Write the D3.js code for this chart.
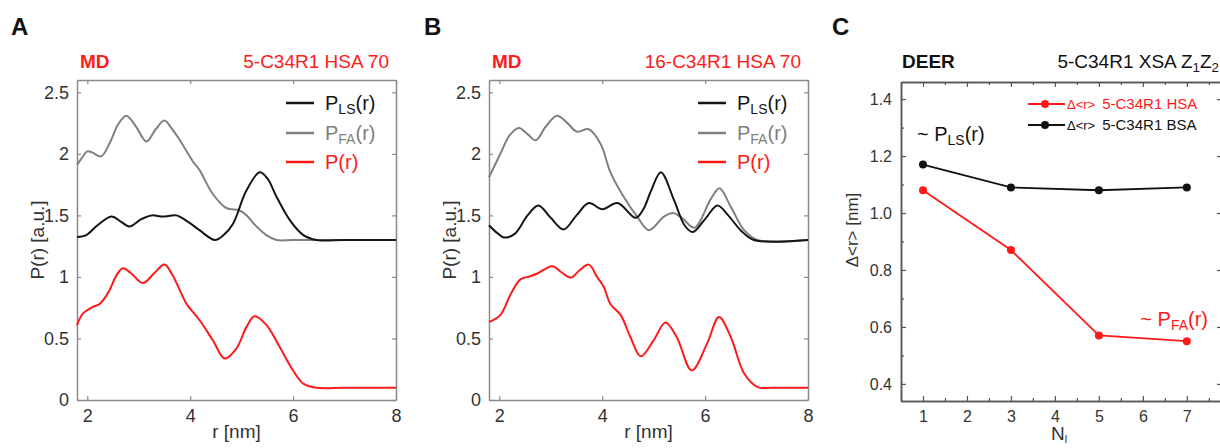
<!DOCTYPE html>
<html>
<head>
<meta charset="utf-8">
<script src="https://cdn.jsdelivr.net/npm/d3@7"></script>
<style>
  body { margin: 0; background: #fff; }
  svg { font-family: "Liberation Sans", Arial, sans-serif; }
</style>
</head>
<body>
<svg id="chart" width="1220" height="448"></svg>
<script>
// panel A: 5-C34R1 HSA 70, [r, P] pairs
var lsA = [[1.8,1.325],[1.98,1.34],[2.2,1.42],[2.47,1.49],[2.65,1.45],[2.82,1.41],[3.05,1.47],[3.25,1.50],[3.47,1.49],[3.73,1.50],[3.95,1.45],[4.18,1.38],[4.48,1.30],[4.65,1.34],[4.83,1.43],[5.09,1.70],[5.35,1.85],[5.5,1.80],[5.68,1.65],[5.94,1.46],[6.2,1.34],[6.46,1.30],[7,1.30],[8,1.30]];
var faA = [[1.8,1.91],[1.9,1.97],[2.0,2.02],[2.1,2.01],[2.27,1.98],[2.45,2.1],[2.6,2.24],[2.76,2.31],[2.95,2.22],[3.15,2.10],[3.33,2.2],[3.5,2.27],[3.65,2.2],[3.8,2.11],[4.05,1.94],[4.18,1.87],[4.43,1.68],[4.7,1.56],[4.96,1.54],[5.1,1.5],[5.22,1.44],[5.48,1.34],[5.68,1.30],[6,1.30],[8,1.30]];
var pA = [[1.8,0.607],[1.91,0.70],[2.11,0.756],[2.24,0.78],[2.43,0.89],[2.55,1.0],[2.69,1.07],[2.85,1.03],[3.08,0.95],[3.3,1.03],[3.5,1.10],[3.65,1.02],[3.8,0.89],[3.93,0.78],[4.18,0.65],[4.44,0.485],[4.67,0.337],[4.9,0.42],[5.09,0.59],[5.25,0.68],[5.48,0.61],[5.74,0.43],[6.0,0.24],[6.2,0.133],[6.45,0.10],[7,0.1],[8,0.1]];

// panel B: 16-C34R1 HSA 70
var lsB = [[1.8,1.42],[1.95,1.36],[2.1,1.32],[2.3,1.35],[2.55,1.5],[2.76,1.58],[3.0,1.48],[3.25,1.385],[3.5,1.5],[3.74,1.60],[4.0,1.55],[4.3,1.60],[4.65,1.48],[4.8,1.55],[4.95,1.70],[5.14,1.85],[5.4,1.62],[5.6,1.42],[5.76,1.365],[6.0,1.47],[6.24,1.58],[6.45,1.5],[6.69,1.38],[6.95,1.30],[8,1.30]];
var faB = [[1.8,1.81],[2.02,2.0],[2.2,2.15],[2.38,2.21],[2.55,2.16],[2.71,2.11],[2.9,2.22],[3.12,2.31],[3.3,2.26],[3.51,2.18],[3.74,2.20],[3.97,2.08],[4.16,1.85],[4.42,1.65],[4.68,1.49],[4.91,1.38],[5.2,1.49],[5.37,1.52],[5.55,1.48],[5.79,1.40],[6.12,1.64],[6.28,1.72],[6.5,1.57],[6.76,1.38],[7.02,1.30],[8,1.30]];
var pB = [[1.8,0.634],[2.02,0.69],[2.21,0.85],[2.41,0.98],[2.6,1.005],[2.75,1.03],[3.03,1.087],[3.2,1.04],[3.39,0.995],[3.55,1.05],[3.74,1.10],[3.9,1.0],[4.03,0.92],[4.16,0.78],[4.36,0.69],[4.55,0.51],[4.75,0.355],[5.0,0.485],[5.23,0.63],[5.45,0.51],[5.74,0.24],[6.04,0.46],[6.27,0.675],[6.5,0.51],[6.76,0.215],[7.02,0.105],[7.3,0.1],[8,0.1]];

var rTicks = [2, 4, 6, 8];
var pTicks = [0, 0.5, 1, 1.5, 2, 2.5];
var pTickLabels = ['0', '0.5', '1', '1.5', '2', '2.5'];

// panel C: DEER widths vs N_l
var nValues = [1, 3, 5, 7];
var hsaWidth = [1.08, 0.87, 0.57, 0.55];
var bsaWidth = [1.17, 1.09, 1.08, 1.09];
var nTicks = [1, 2, 3, 4, 5, 6, 7];
var wTicks = [0.4, 0.6, 0.8, 1.0, 1.2, 1.4];

var colLS = '#151515', colFA = '#808080', colP = '#ff1a1a';

var svg = d3.select('#chart');

// panel letters
[['A', 11], ['B', 424], ['C', 832]].forEach(function(d) {
    svg.append('text').attr('x', d[1]).attr('y', 35)
        .attr('font-size', 24).attr('font-weight', 'bold').attr('fill', '#111')
        .text(d[0]);
});

function subText(sel, parts) {
    //parts: [text, isSub]
    parts.forEach(function(p) {
        var t = sel.append('tspan').text(p[0]);
        if (p[1] == 'sub') t.attr('font-size', '0.7em').attr('dy', 4);
        if (p[1] == 'back') t.attr('dy', -4);
    });
}

function drawDist(left, right, title, ls, fa, p) {
    var top = 80, bottom = 400;
    var x = d3.scaleLinear().domain([1.8, 8]).range([left, right]);
    var y = d3.scaleLinear().domain([0, 2.6]).range([bottom, top]);
    var g = svg.append('g');

    // titles
    g.append('text').attr('x', left + 3).attr('y', 68).attr('font-size', 19)
        .attr('font-weight', 'bold').attr('fill', colP).text('MD');
    g.append('text').attr('x', right - 7).attr('y', 68).attr('font-size', 19)
        .attr('text-anchor', 'end').attr('fill', colP).text(title);

    // axes, ticks inward
    var axB = d3.axisBottom(x).tickValues(rTicks).tickSizeInner(-4).tickSizeOuter(0).tickPadding(9)
        .tickFormat(d3.format('d'));
    var axL = d3.axisLeft(y).tickValues(pTicks).tickSizeInner(-4).tickSizeOuter(0).tickPadding(8)
        .tickFormat(function(d, i) { return pTickLabels[i]; });
    var axT = d3.axisTop(x).tickValues(rTicks).tickSizeInner(-4).tickSizeOuter(0).tickFormat('');
    var axR = d3.axisRight(y).tickValues(pTicks).tickSizeInner(-4).tickSizeOuter(0).tickFormat('');

    [[axB, 'translate(0,' + bottom + ')'], [axL, 'translate(' + left + ',0)'],
     [axT, 'translate(0,' + top + ')'], [axR, 'translate(' + right + ',0)']].forEach(function(a) {
        var s = g.append('g').attr('transform', a[1]).call(a[0]);
        s.select('.domain').attr('stroke', '#8a8a8a').attr('stroke-width', 1.5);
        s.selectAll('.tick line').attr('stroke', '#8a8a8a').attr('stroke-width', 1.2);
        s.selectAll('text').attr('font-size', 18).attr('fill', '#333')
            .attr('font-family', '"Liberation Sans", Arial, sans-serif');
    });

    var line = d3.line().x(function(d) { return x(d[0]); }).y(function(d) { return y(d[1]); })
        .curve(d3.curveCatmullRom.alpha(0.5));
    [[fa, colFA], [ls, colLS], [p, colP]].forEach(function(s) {
        g.append('path').datum(s[0]).attr('d', line).attr('fill', 'none')
            .attr('stroke', s[1]).attr('stroke-width', 2);
    });

    // legend
    var lx = right - 110;
    var items = [
        [colLS, 103, [['P'], ['LS', 'sub'], ['(r)', 'back']]],
        [colFA, 133, [['P'], ['FA', 'sub'], ['(r)', 'back']]],
        [colP, 162, [['P(r)']]]
    ];
    items.forEach(function(it) {
        g.append('line').attr('x1', lx).attr('x2', lx + 28).attr('y1', it[1]).attr('y2', it[1])
            .attr('stroke', it[0]).attr('stroke-width', 2.5);
        var t = g.append('text').attr('x', lx + 39).attr('y', it[1] + 7)
            .attr('font-size', 20).attr('fill', it[0]);
        subText(t, it[2]);
    });

    // axis labels
    g.append('text').attr('transform', 'translate(' + (left - 33) + ',' + ((top + bottom) / 2) + ') rotate(-90)')
        .attr('text-anchor', 'middle').attr('font-size', 19).attr('fill', '#333').text('P(r) [a.u.]');
    g.append('text').attr('x', (left + right) / 2).attr('y', 438)
        .attr('text-anchor', 'middle').attr('font-size', 19).attr('fill', '#333').text('r [nm]');
}

drawDist(77, 396, '5-C34R1 HSA 70', lsA, faA, pA);
drawDist(489, 808, '16-C34R1 HSA 70', lsB, faB, pB);

// panel C
function drawDeer() {
    var left = 901, right = 1222, top = 82, bottom = 401;
    var x = d3.scaleLinear().domain([0.5, 7.8]).range([left, right]);
    var y = d3.scaleLinear().domain([0.34, 1.46]).range([bottom, top]);
    var g = svg.append('g');

    g.append('text').attr('x', left + 1).attr('y', 68).attr('font-size', 19)
        .attr('font-weight', 'bold').attr('fill', '#111').text('DEER');
    var tt = g.append('text').attr('x', 1219).attr('y', 68).attr('font-size', 19)
        .attr('text-anchor', 'end').attr('fill', '#111');
    subText(tt, [['5-C34R1 XSA Z'], ['1', 'sub'], ['Z', 'back'], ['2', 'sub']]);

    var minorX = d3.range(0.5, 7.81, 0.5).filter(function(v) { return v % 1 != 0; });
    var minorY = [0.5, 0.7, 0.9, 1.1, 1.3];

    var axes = [
        [d3.axisBottom(x).tickValues(nTicks).tickSizeInner(-5).tickPadding(10).tickFormat(d3.format('d')), 'translate(0,' + bottom + ')'],
        [d3.axisLeft(y).tickValues(wTicks).tickSizeInner(-5).tickPadding(9).tickFormat(d3.format('.1f')), 'translate(' + left + ',0)'],
        [d3.axisTop(x).tickValues(nTicks).tickSizeInner(-5).tickFormat(''), 'translate(0,' + top + ')'],
        [d3.axisRight(y).tickValues(wTicks).tickSizeInner(-5).tickFormat(''), 'translate(' + right + ',0)'],
        [d3.axisBottom(x).tickValues(minorX).tickSizeInner(-3).tickFormat(''), 'translate(0,' + bottom + ')'],
        [d3.axisTop(x).tickValues(minorX).tickSizeInner(-3).tickFormat(''), 'translate(0,' + top + ')'],
        [d3.axisLeft(y).tickValues(minorY).tickSizeInner(-3).tickFormat(''), 'translate(' + left + ',0)']
    ];
    axes.forEach(function(a) {
        var s = g.append('g').attr('transform', a[1]).call(a[0].tickSizeOuter(0));
        s.select('.domain').attr('stroke', '#555').attr('stroke-width', 1.5);
        s.selectAll('.tick line').attr('stroke', '#555').attr('stroke-width', 1.2);
        s.selectAll('text').attr('font-size', 16).attr('fill', '#333')
            .attr('font-family', '"Liberation Sans", Arial, sans-serif');
    });

    var series = [[bsaWidth, '#111'], [hsaWidth, colP]];
    series.forEach(function(s) {
        var pts = nValues.map(function(n, i) { return [n, s[0][i]]; });
        g.append('path').datum(pts)
            .attr('d', d3.line().x(function(d) { return x(d[0]); }).y(function(d) { return y(d[1]); }))
            .attr('fill', 'none').attr('stroke', s[1]).attr('stroke-width', 1.8);
        g.selectAll(null).data(pts).enter().append('circle')
            .attr('cx', function(d) { return x(d[0]); }).attr('cy', function(d) { return y(d[1]); })
            .attr('r', 4).attr('fill', s[1]);
    });

    // legend
    var legend = [[colP, 104, '5-C34R1 HSA'], ['#111', 125, '5-C34R1 BSA']];
    legend.forEach(function(l) {
        g.append('line').attr('x1', 1028).attr('x2', 1065).attr('y1', l[1]).attr('y2', l[1])
            .attr('stroke', l[0]).attr('stroke-width', 1.8);
        g.append('circle').attr('cx', 1045).attr('cy', l[1]).attr('r', 4).attr('fill', l[0]);
        var t = g.append('text').attr('x', 1067).attr('y', l[1] + 5).attr('fill', l[0]);
        t.append('tspan').attr('font-size', 13).text('\u0394<r>');
        t.append('tspan').attr('font-size', 15).attr('dx', 7).text(l[2]);
    });

    var a1 = g.append('text').attr('x', 917).attr('y', 141).attr('font-size', 20).attr('fill', '#111');
    subText(a1, [['~ P'], ['LS', 'sub'], ['(r)', 'back']]);
    var a2 = g.append('text').attr('x', 1208).attr('y', 326).attr('font-size', 20)
        .attr('text-anchor', 'end').attr('fill', colP);
    subText(a2, [['~ P'], ['FA', 'sub'], ['(r)', 'back']]);

    g.append('text').attr('transform', 'translate(' + 858 + ',' + 230 + ') rotate(-90)')
        .attr('text-anchor', 'middle').attr('font-size', 17).attr('fill', '#333').text('\u0394<r> [nm]');
    var nl = g.append('text').attr('x', 1051).attr('y', 440).attr('font-size', 19).attr('fill', '#333');
    nl.append('tspan').text('N');
    nl.append('tspan').attr('font-size', 11).attr('dy', 3).text('l');
}

drawDeer();
</script>
</body>
</html>
